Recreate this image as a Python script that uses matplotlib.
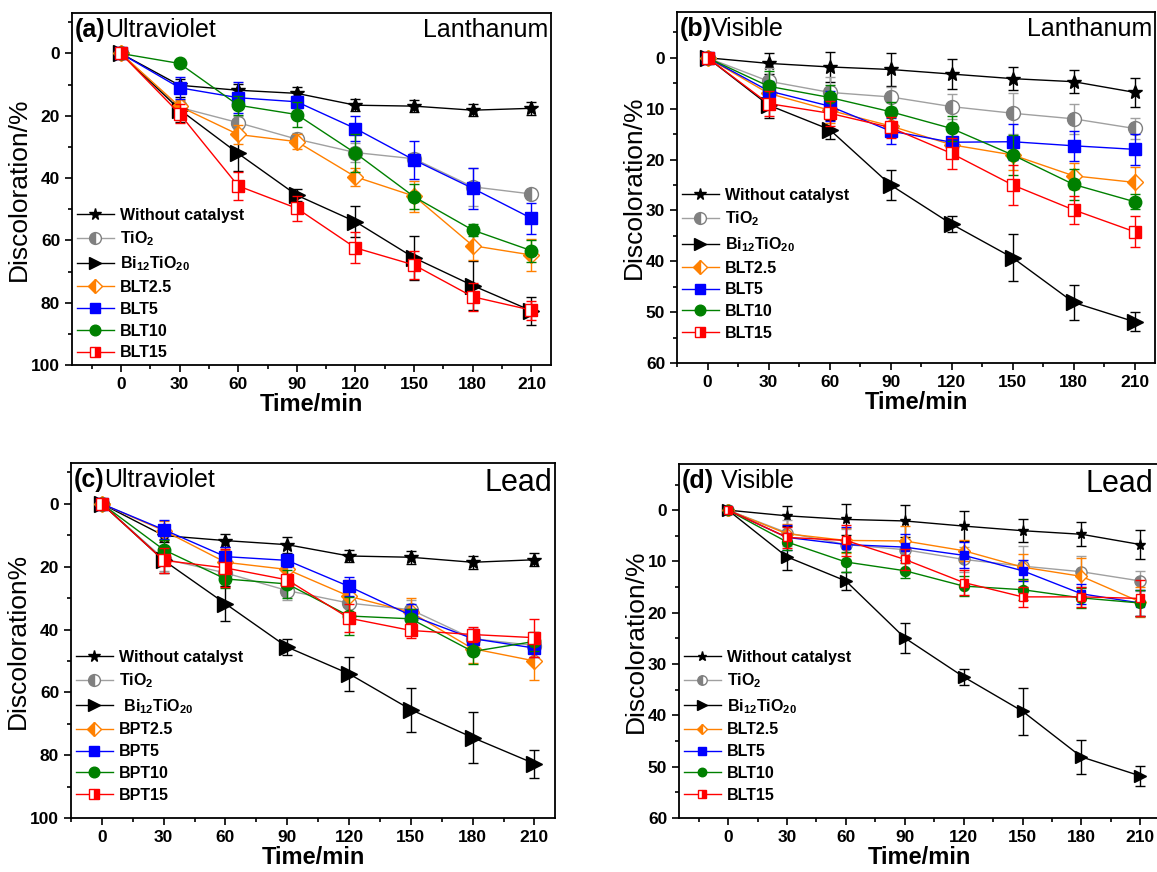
import numpy as np
import matplotlib.pyplot as plt
from matplotlib.ticker import MultipleLocator

plt.rcParams['font.family'] = ['Liberation Sans', 'DejaVu Sans']
plt.rcParams['mathtext.fontset'] = 'custom'
plt.rcParams['mathtext.rm'] = 'Liberation Sans:bold'
plt.rcParams['mathtext.it'] = 'Liberation Sans:bold'
plt.rcParams['mathtext.bf'] = 'Liberation Sans:bold'
plt.rcParams['mathtext.default'] = 'rm'

time = [0, 30, 60, 90, 120, 150, 180, 210]

# (a) ultraviolet, lanthanum
a_labels = ["Without catalyst", "TiO$_2$", "Bi$_{12}$TiO$_{20}$",
            "BLT2.5", "BLT5", "BLT10", "BLT15"]
a_vals = [
    [0, 10.2, 11.8, 12.8, 16.6, 16.9, 18.2, 17.6],
    [0, 17.3, 22.2, 27.5, 31.8, 33.8, 42.8, 45.1],
    [0, 18.0, 32.1, 45.5, 54.0, 65.6, 74.5, 82.6],
    [0, 17.0, 26.0, 28.3, 39.6, 45.8, 61.7, 64.7],
    [0, 11.0, 14.2, 15.5, 24.1, 34.2, 43.3, 52.9],
    [0, 3.2, 16.6, 19.6, 32.0, 46.0, 56.7, 63.3],
    [0, 19.3, 42.5, 49.7, 62.4, 67.9, 78.1, 82.4],
]
a_errs = [
    [0, 2, 2, 2, 2, 2, 2, 2],
    [0, 2, 2, 2, 3, 2, 6, 1.5],
    [0, 4, 5.5, 2, 5, 7, 8, 4.5],
    [0, 2, 3, 2.5, 3, 5, 4.5, 5],
    [0, 3.5, 5, 2, 4, 6, 6.5, 5],
    [0, 1, 3, 4, 6, 4, 2, 3.5],
    [0, 3, 4.5, 4, 5, 4.5, 4.5, 3],
]

# (b) visible, lanthanum
b_labels = a_labels
b_vals = [
    [0, 1.1, 1.8, 2.3, 3.2, 4.1, 4.7, 6.8],
    [0, 4.6, 6.8, 7.7, 9.6, 10.9, 12.0, 13.9],
    [0, 9.3, 14.1, 25.0, 32.7, 39.3, 48.1, 51.9],
    [0, 7.0, 10.3, 13.4, 17.1, 19.1, 23.2, 24.5],
    [0, 6.5, 9.5, 14.4, 16.6, 16.5, 17.3, 18.0],
    [0, 5.6, 7.8, 10.6, 13.9, 19.1, 24.9, 28.3],
    [0, 9.0, 10.9, 13.7, 18.8, 25.0, 29.9, 34.2],
]
b_errs = [
    [0, 2, 3, 3.2, 3, 2.3, 2.3, 2.8],
    [0, 2.5, 3, 2, 2.5, 4, 3, 2],
    [0, 2.5, 1.8, 2.9, 1.5, 4.6, 3.4, 1.9],
    [0, 2, 2.5, 2, 2.5, 3, 2.5, 3],
    [0, 2, 3, 2.5, 3, 3.5, 3, 3],
    [0, 3, 2.5, 2, 2.5, 4, 3, 1.5],
    [0, 2.5, 2.5, 2, 3, 4, 2.7, 3],
]

# (c) ultraviolet, lead
c_labels = ["Without catalyst", "TiO$_2$", " Bi$_{12}$TiO$_{20}$",
            "BPT2.5", "BPT5", "BPT10", "BPT15"]
c_vals = [
    [0, 10.1, 11.7, 13.0, 16.6, 17.0, 18.6, 17.8],
    [0, 17.5, 22.0, 27.6, 31.6, 33.7, 42.9, 45.1],
    [0, 18.0, 31.8, 45.6, 54.1, 65.5, 74.4, 82.7],
    [0, 8.5, 18.6, 20.9, 29.4, 34.5, 46.1, 50.0],
    [0, 8.2, 16.8, 18.0, 26.3, 35.5, 42.9, 45.9],
    [0, 14.6, 23.9, 25.5, 35.7, 36.6, 47.0, 43.8],
    [0, 18.0, 20.4, 24.2, 36.4, 40.3, 41.6, 42.6],
]
c_errs = [
    [0, 2, 2, 2.5, 2, 2, 2, 2],
    [0, 4, 4, 3, 3, 3, 3, 2.5],
    [0, 4, 5.5, 2.5, 5.5, 7, 8, 4.5],
    [0, 3, 4, 3, 5, 4.5, 4.5, 6],
    [0, 3, 3, 2, 3, 3.5, 3, 3],
    [0, 3, 3, 4.5, 6, 3, 4, 3],
    [0, 4, 6, 2, 4.5, 2.5, 2.5, 6],
]

# (d) visible, lead
d_labels = a_labels
d_vals = [
    [0, 1.1, 1.8, 2.1, 3.1, 4.0, 4.7, 6.7],
    [0, 4.4, 6.7, 7.7, 9.6, 10.9, 12.0, 13.8],
    [0, 9.1, 13.8, 24.9, 32.5, 39.2, 48.1, 51.8],
    [0, 4.6, 5.9, 6.0, 7.9, 11.1, 12.9, 17.9],
    [0, 5.3, 6.7, 7.2, 8.8, 11.8, 16.3, 18.1],
    [0, 6.2, 10.1, 11.8, 14.8, 15.5, 17.1, 18.1],
    [0, 5.3, 5.9, 9.6, 14.1, 16.9, 16.9, 17.2],
]
d_errs = [
    [0, 2, 3, 3.2, 3, 2.3, 2.3, 2.8],
    [0, 2.5, 3, 2, 2.5, 4, 3, 2],
    [0, 2.5, 1.8, 2.9, 1.5, 4.6, 3.4, 1.9],
    [0, 2, 2.5, 3, 2, 2.5, 3.5, 3],
    [0, 2.5, 3.5, 2.5, 2.5, 2, 2, 2.5],
    [0, 1.5, 2, 1.5, 2, 2, 2, 2.5],
    [0, 2, 3, 2, 2.5, 2, 2, 3.5],
]

colors = ['black', '#a0a0a0', 'black', '#ff8000', '#0000ff', '#008000', '#ff0000']
styles = [
    dict(marker='*', ms=10, mfc='black', mec='black'),
    dict(marker='o', ms=10, fillstyle='left', mfc='#808080', mfcalt='white', mec='#808080'),
    dict(marker='>', ms=11, mfc='black', mec='black'),
    dict(marker='D', ms=8, fillstyle='left', mfc='#ff8000', mfcalt='white', mec='#ff8000'),
    dict(marker='s', ms=8, mfc='#0000ff', mec='#0000ff'),
    dict(marker='o', ms=9, mfc='#008000', mec='#008000'),
    dict(marker='s', ms=8, fillstyle='right', mfc='#ff0000', mfcalt='white', mec='#ff0000'),
]

W, H = 1157, 872
fig = plt.figure(figsize=(W / 100, H / 100), dpi=100)


def px_rect(left, right, top, bottom):
    return [left / W, 1 - bottom / H, (right - left) / W, (bottom - top) / H]


def panel(rect, vals, errs, labels, xlim, ylim, ymajor, yminor, ylabel,
          tag, light, metal, metal_size, metal_x, leg_y, scale=1.0):
    ax = fig.add_axes(rect)
    for v, e, lab, c, st in zip(vals, errs, labels, colors, styles):
        ax.errorbar(time, v, yerr=e, fmt='none', ecolor=c, elinewidth=1,
                    capsize=3.5, capthick=1)
        st = dict(st)
        st['ms'] = st['ms'] * scale
        ax.plot(time, v, color=c, lw=1, label=lab, **st)
    ax.set_xlim(*xlim)
    ax.set_xticks(time)
    ax.xaxis.set_minor_locator(MultipleLocator(15))
    ax.yaxis.set_major_locator(MultipleLocator(ymajor))
    ax.yaxis.set_minor_locator(MultipleLocator(yminor))
    ax.set_ylim(*ylim)
    ax.tick_params(which='major', direction='out', length=5, width=1.2,
                   labelsize=12.5)
    ax.tick_params(which='minor', direction='out', length=3, width=1.2)
    for lab in ax.get_xticklabels() + ax.get_yticklabels():
        lab.set_fontweight('bold')
    for s in ax.spines.values():
        s.set_linewidth(1.3)
    ax.set_xlabel('Time/min', fontsize=17, fontweight='bold', labelpad=1)
    ax.set_ylabel(ylabel, fontsize=19, labelpad=0)
    t = ax.text(0.005, 0.985, tag, transform=ax.transAxes, fontsize=18,
                fontweight='bold', va='top', ha='left')
    ax.annotate(light, xy=(1, 0), xycoords=t, fontsize=18, va='bottom',
                ha='left')
    ax.text(metal_x, 0.985, metal, transform=ax.transAxes, fontsize=metal_size,
            va='top', ha='right')
    ax.legend(loc='lower left', bbox_to_anchor=(0.0, leg_y), frameon=False,
              prop={'weight': 'bold', 'size': 11.5}, handlelength=2.3,
              handletextpad=0.4, labelspacing=0.42, borderaxespad=0.2,
              borderpad=0.1, markerscale=0.85)
    return ax


panel(px_rect(72, 551, 13, 365), a_vals, a_errs, a_labels, (-25, 220),
      (100, -13), 20, 10, 'Discoloration/%', '(a)', 'Ultraviolet',
      'Lanthanum', 18, 0.995, 0.0)
panel(px_rect(677, 1155, 12, 363), b_vals, b_errs, b_labels, (-15, 220),
      (60, -9), 10, 5, 'Discoloration/%', '(b)', 'Visible',
      'Lanthanum', 18, 0.995, 0.05)
panel(px_rect(71, 555, 463, 818), c_vals, c_errs, c_labels, (-15, 220),
      (100, -13), 20, 10, 'Discoloration%', '(c)', 'Ultraviolet',
      'Lead', 22, 0.995, 0.03)
panel(px_rect(679, 1160, 464, 818), d_vals, d_errs, d_labels, (-25, 220),
      (60, -9), 10, 5, 'Discoloration/%', '(d)', ' Visible',
      'Lead', 22, 0.985, 0.03, scale=0.8)

fig.savefig('out.png', dpi=100)
